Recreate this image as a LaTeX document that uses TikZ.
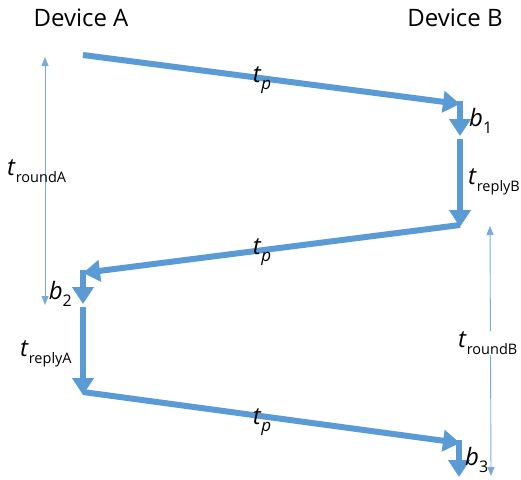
\documentclass[tikz,border=0pt]{standalone}
\usepackage{fontspec}
\setmainfont{Open Sans}
\usetikzlibrary{arrows.meta}
\definecolor{flow}{RGB}{91,155,213}
\definecolor{flowthin}{RGB}{120,170,222}
\tikzset{
  msg/.style={draw=flow, line width=6pt, -{Triangle[width=21pt,length=17pt]}},
  hop/.style={draw=flow, line width=6pt, -{Triangle[width=21pt,length=17pt]}},
  span/.style={draw=flowthin, line width=0.9pt, {Triangle[width=7pt,length=9pt]}-{Triangle[width=7pt,length=9pt]}},
  dev/.style={font=\fontsize{24}{26}\selectfont, inner sep=0pt},
  lbl/.style={font=\fontsize{24}{26}\selectfont, inner sep=0pt},
}
\newcommand{\tm}[1]{\textit{t}\raisebox{-0.3em}{\fontsize{14.5}{16}\selectfont #1}}
\newcommand{\bm}[1]{\textit{b}\raisebox{-0.3em}{\fontsize{16}{17}\selectfont #1}}
\newcommand{\tpr}{\textit{t}\raisebox{-0.3em}{\textit{\fontsize{17}{17}\selectfont p}}}
\begin{document}
\begin{tikzpicture}[x=1pt, y=-1pt]
  \useasboundingbox (0,0) rectangle (521,479);

  % device headers
  \node[dev] (devA) at (81,18) {Device A};
  \node[dev] (devB) at (455,18) {Device B};

  % timeline points
  \coordinate (a0) at (83,55);
  \coordinate (b0) at (460,104);
  \coordinate (b1) at (460,136);
  \coordinate (b2) at (460,139);
  \coordinate (b3) at (460,227);
  \coordinate (b3s) at (460,225);
  \coordinate (a1) at (83,273);
  \coordinate (a2) at (83,304);
  \coordinate (a3) at (83,307);
  \coordinate (a4) at (83,395);
  \coordinate (b4) at (460,443);
  \coordinate (b5) at (459,477);

  % messages and processing steps
  \draw[msg] (a0) -- (b0);
  \draw[hop] (460,101) -- (b1);
  \draw[hop] (b2) -- (b3);
  \draw[msg] (b3s) -- (a1);
  \draw[hop] (83,270) -- (a2);
  \draw[hop] (a3) -- (a4);
  \draw[msg] (83,392) -- (b4);
  \draw[hop] (459,440) -- (b5);

  % labels
  \node[lbl] (tp1) at (262,80) {\tpr};
  \node[lbl] (tp2) at (262,252) {\tpr};
  \node[lbl] (tp3) at (262,422) {\tpr};
  \node[lbl, anchor=west] (lb1) at (469,121) {\bm{1}};
  \node[lbl, anchor=west] (lrB) at (468,182) {\tm{replyB}};
  \node[lbl, anchor=east] (lb2) at (72,294) {\bm{2}};
  \node[lbl, anchor=west] (lrA) at (20,354) {\tm{replyA}};
  \node[lbl, anchor=west] (lb3) at (465,460) {\bm{3}};

  % round-trip spans
  \coordinate (ra0) at (45,57);
  \coordinate (ra1) at (45,305);
  \coordinate (rb0) at (490,226);
  \coordinate (rb1) at (491,476);
  \draw[span] (ra0) -- (ra1);
  \draw[span] (rb0) -- (rb1);
  \node[lbl, anchor=west] (rtA) at (7,171) {\tm{roundA}};
  \node[lbl, anchor=west, fill=white] (rtB) at (458,343) {\tm{roundB}};
\end{tikzpicture}
\end{document}
